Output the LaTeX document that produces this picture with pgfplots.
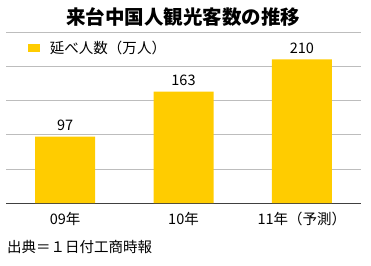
\documentclass[border=0pt]{standalone}
\usepackage{fontspec}
\setmainfont{Noto Sans CJK JP}
\usepackage{pgfplots}
\pgfplotsset{compat=1.18}
\definecolor{baryellow}{HTML}{FFCC00}
\definecolor{gridgray}{HTML}{BDBDBD}
\begin{document}
\begin{tikzpicture}
\path[use as bounding box] (-6pt,-62pt) rectangle (365pt,203pt);
\begin{axis}[
  at={(0pt,0pt)}, anchor=south west,
  scale only axis, width=355pt, height=171pt,
  xmin=-0.5, xmax=2.5, ymin=0, ymax=250,
  /pgf/number format/assume math mode=true,
  axis x line=bottom, axis y line=left,
  x axis line style={-, draw=black!75, line width=0.6pt},
  y axis line style={draw=none},
  xtick={0,1,2}, xticklabels={09年,10年,11年（予測）},
  ytick={50,100,150,200,250}, yticklabels={},
  major tick length=0pt,
  ymajorgrids, grid style={gridgray, line width=0.6pt},
  xticklabel style={font=\fontsize{14.5}{16}\selectfont, yshift=-6pt},
  ybar, bar width=60pt,
  nodes near coords,
  every node near coord/.append style={font=\fontsize{14.5}{16}\selectfont, black, yshift=2pt},
  legend style={at={(rel axis cs:0.06,0.905)}, anchor=west, draw=none, fill=none,
    font=\fontsize{14.5}{16}\selectfont, inner sep=0pt},
  legend image code/.code={\fill[baryellow] (0pt,-4.2pt) rectangle (12.5pt,4.2pt);},
]
\addplot[fill=baryellow, draw=none] coordinates {(0,97) (1,163) (2,210)};
\addlegendentry{\hspace{8pt}延べ人数（万人）}
\end{axis}
\node[font=\bfseries\fontsize{19.5}{22}\selectfont] at (177pt,186pt) {来台中国人観光客数の推移};
\node[anchor=west, font=\fontsize{14.5}{16}\selectfont, inner sep=0pt] at (1pt,-44pt) {出典＝１日付工商時報};
\end{tikzpicture}
\end{document}
